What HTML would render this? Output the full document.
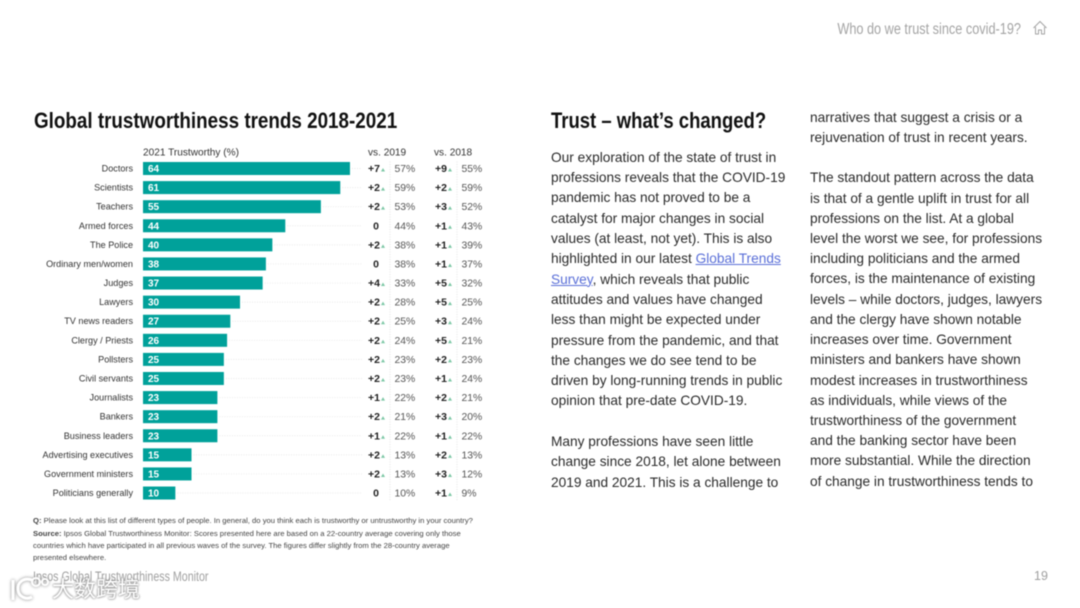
<!DOCTYPE html>
<html><head><meta charset="utf-8">
<style>
html,body{margin:0;padding:0;background:#fff}
#page{position:relative;width:1080px;height:608px;overflow:hidden;background:#fff;font-family:"Liberation Sans","Noto Sans CJK SC",sans-serif;filter:blur(0.4px)}
.a{position:absolute;white-space:nowrap}
.body{font-size:13.7px;color:#2a2a2a}
.h{font-weight:bold;color:#111;font-size:22.5px;transform-origin:0 50%;transform:scaleX(.837)}
.fn{font-size:7.67px;color:#444;line-height:12.2px;left:33px}
a{color:#5a6fd8;text-decoration:underline}
svg{position:absolute;left:0;top:0}
svg text{font-family:"Liberation Sans",sans-serif}
</style></head>
<body>
<div id="page">
<div class="a" style="right:59px;top:20.500px;font-size:15.5px;color:#a4a4a4;transform:scaleX(.82);transform-origin:100% 50%">Who do we trust since covid-19?</div>
<svg style="left:1032px;top:20px" width="16" height="16" viewBox="0 0 16 16"><path d="M1.5 8 8 1.5 14.500 8M3.500 7v7h3v-4h3v4h3V7" fill="none" stroke="#a4a4a4" stroke-width="1"/></svg>

<div class="a h" style="left:34px;top:108px">Global trustworthiness trends 2018-2021</div>
<svg id="chart" width="1080" height="608"></svg>

<div class="a fn" style="top:515px"><b>Q:</b> Please look at this list of different types of people. In general, do you think each is trustworthy or untrustworthy in your country?</div>
<div class="a fn" style="top:527.700px"><b>Source:</b> Ipsos Global Trustworthiness Monitor: Scores presented here are based on a 22-country average covering only those<br>countries which have participated in all previous waves of the survey. The figures differ slightly from the 28-country average<br>presented elsewhere.</div>
<div class="a" style="left:33px;top:569px;font-size:13.500px;color:#a0a0a0;transform:scaleX(.79);transform-origin:0 50%">Ipsos Global Trustworthiness Monitor</div>
<div class="a" style="left:1034px;top:569px;font-size:12.500px;color:#a0a0a0">19</div>
<div class="a" style="left:52px;top:574px;font-size:22px;color:#fff;text-shadow:0 0 2px #888,0 0 2px #888;font-family:'Noto Sans CJK SC',sans-serif;line-height:28px">大数跨境</div>
<svg style="left:8px;top:574px;filter:drop-shadow(0 0 1.500px #888)" width="44" height="30" viewBox="0 0 44 30"><path d="M5 6v20M24 6c-9-3-15 3-14 10s8 10 14 7" fill="none" stroke="#fff" stroke-width="3"/><circle cx="28" cy="8" r="4" fill="none" stroke="#fff" stroke-width="2"/><circle cx="37" cy="8" r="3" fill="none" stroke="#fff" stroke-width="2"/></svg>

<div class="a h" style="left:551px;top:108px;transform:scaleX(.822)">Trust – what’s changed?</div>
<div class="a body" style="left:551px;top:147.900px;line-height:20.3px">Our exploration of the state of trust in<br>professions reveals that the COVID-19<br>pandemic has not proved to be a<br>catalyst for major changes in social<br>values (at least, not yet). This is also<br>highlighted in our latest <a href="#">Global Trends <br>Survey</a>, which reveals that public<br>attitudes and values have changed<br>less than might be expected under<br>pressure from the pandemic, and that<br>the changes we do see tend to be<br>driven by long-running trends in public<br>opinion that pre-date COVID-19.<br><br>Many professions have seen little<br>change since 2018, let alone between<br>2019 and 2021. This is a challenge to</div>
<div class="a body" style="left:810px;top:107.700px;line-height:20.22px">narratives that suggest a crisis or a<br>rejuvenation of trust in recent years.<br><br>The standout pattern across the data<br>is that of a gentle uplift in trust for all<br>professions on the list. At a global<br>level the worst we see, for professions<br>including politicians and the armed<br>forces, is the maintenance of existing<br>levels – while doctors, judges, lawyers<br>and the clergy have shown notable<br>increases over time. Government<br>ministers and bankers have shown<br>modest increases in trustworthiness<br>as individuals, while views of the<br>trustworthiness of the government<br>and the banking sector have been<br>more substantial. While the direction<br>of change in trustworthiness tends to</div>
</div>
<script>
const categories=["Doctors","Scientists","Teachers","Armed forces","The Police","Ordinary men/women","Judges","Lawyers","TV news readers","Clergy / Priests","Pollsters","Civil servants","Journalists","Bankers","Business leaders","Advertising executives","Government ministers","Politicians generally"];
const trust2021=[64,61,55,44,40,38,37,30,27,26,25,25,23,23,23,15,15,10];
const change2019=[7,2,2,0,2,0,4,2,2,2,2,2,1,2,1,2,2,0];
const value2019=[57,59,53,44,38,38,33,28,25,24,23,23,22,21,22,13,13,10];
const change2018=[9,2,3,1,1,1,5,5,3,5,2,1,2,3,1,2,3,1];
const value2018=[55,59,52,43,39,37,32,25,24,21,23,24,21,20,22,13,12,9];
const svg=document.getElementById('chart');
const NS='http://www.w3.org/2000/svg';
const xScale=v=>143+v*3.234;
const yScale=i=>168.5+i*19.09;
function fmt(v){return v>0?'+'+v:String(v);}
function add(tag,attrs,text){
  const el=document.createElementNS(NS,tag);
  for(const k in attrs)el.setAttribute(k,attrs[k]);
  if(text!==undefined)el.textContent=text;
  svg.appendChild(el);
  return el;
}
const hdr1=add('text',{x:143,y:155.500,'font-size':10.1,fill:'#333'},'2021 Trustworthy (%)');


const hdr2=add('text',{x:368,y:155.500,'font-size':10.1,fill:'#333'},'vs. 2019');


const hdr3=add('text',{x:434,y:155.500,'font-size':10.1,fill:'#333'},'vs. 2018');


[390,457].forEach(function(x){
  const d=add('line',{x1:x,x2:x,y1:yScale(0)-7,y2:yScale(categories.length-1)+8,stroke:'#d8d8d8','stroke-width':.7,'stroke-dasharray':'1 1.500'});
  
  
});
categories.forEach(function(c,i){
  const y=yScale(i);
  const lead=add('line',{x1:xScale(trust2021[i])+2,x2:362,y1:y,y2:y,stroke:'#e2e2e2','stroke-width':.7,'stroke-dasharray':'1 1.500'});
  
  
  const lab=add('text',{x:133,y:y+3,'font-size':9.1,fill:'#333','text-anchor':'end'},c);
  
  
  const bar=add('rect',{x:143,y:y-6.500,width:xScale(trust2021[i])-143,height:13,fill:'#00a19a'});
  
  
  const val=add('text',{x:148,y:y+3.500,'font-size':10,'font-weight':'bold',fill:'#fff'},trust2021[i]);
  
  
  [[change2019,value2019,380,394.500],[change2018,value2018,447,461.500]].forEach(function(s){
    const d=s[0][i];
    const t=add('text',{x:d===0?s[2]-1:s[2],y:y+3.500,'font-size':10.500,'font-weight':'bold',fill:'#222','text-anchor':'end'},fmt(d));
    
    
    if(d>0){
      const m=add('path',{d:'M'+(s[2]+1)+' '+(y+3)+'h4l-2 -3.500z',fill:'#7cc7a5'});
      
      
    }
    const p=add('text',{x:s[3],y:y+3.500,'font-size':10.400,fill:'#555'},s[1][i]+'%');
    
    
  });
});
</script>
</body></html>
